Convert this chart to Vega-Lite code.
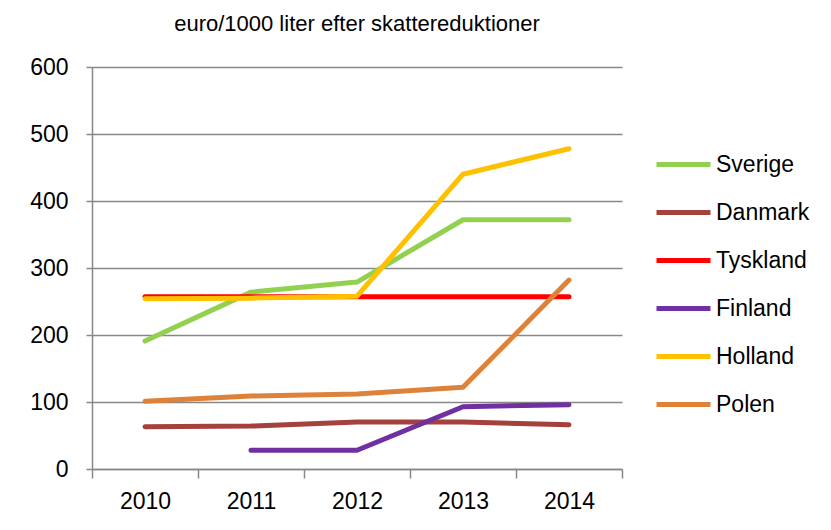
{
  "$schema": "https://vega.github.io/schema/vega-lite/v6.json",
  "width": 530,
  "height": 402,
  "autosize": {"type": "none"},
  "padding": {"left": 92, "top": 67, "right": 209, "bottom": 61},
  "background": "white",
  "title": {
    "text": "euro/1000 liter efter skattereduktioner",
    "font": "Liberation Sans",
    "fontSize": 22,
    "fontWeight": "normal",
    "color": "#000000",
    "anchor": "middle",
    "offset": 20
  },
  "config": {
    "view": {"stroke": null},
    "font": "Liberation Sans"
  },
  "data": {
    "values": [
      {"year": "2010", "country": "Sverige", "value": 191},
      {"year": "2011", "country": "Sverige", "value": 264},
      {"year": "2012", "country": "Sverige", "value": 279},
      {"year": "2013", "country": "Sverige", "value": 372},
      {"year": "2014", "country": "Sverige", "value": 372},
      {"year": "2010", "country": "Danmark", "value": 63},
      {"year": "2011", "country": "Danmark", "value": 64},
      {"year": "2012", "country": "Danmark", "value": 70},
      {"year": "2013", "country": "Danmark", "value": 70},
      {"year": "2014", "country": "Danmark", "value": 66},
      {"year": "2010", "country": "Tyskland", "value": 257},
      {"year": "2011", "country": "Tyskland", "value": 257},
      {"year": "2012", "country": "Tyskland", "value": 257},
      {"year": "2013", "country": "Tyskland", "value": 257},
      {"year": "2014", "country": "Tyskland", "value": 257},
      {"year": "2011", "country": "Finland", "value": 28},
      {"year": "2012", "country": "Finland", "value": 28},
      {"year": "2013", "country": "Finland", "value": 93},
      {"year": "2014", "country": "Finland", "value": 96},
      {"year": "2010", "country": "Holland", "value": 254},
      {"year": "2011", "country": "Holland", "value": 255},
      {"year": "2012", "country": "Holland", "value": 258},
      {"year": "2013", "country": "Holland", "value": 440},
      {"year": "2014", "country": "Holland", "value": 478},
      {"year": "2010", "country": "Polen", "value": 101},
      {"year": "2011", "country": "Polen", "value": 109},
      {"year": "2012", "country": "Polen", "value": 112},
      {"year": "2013", "country": "Polen", "value": 122},
      {"year": "2014", "country": "Polen", "value": 282}
    ]
  },
  "mark": {"type": "line", "strokeWidth": 5, "strokeCap": "round", "strokeJoin": "round"},
  "encoding": {
    "x": {
      "field": "year",
      "type": "ordinal",
      "bandPosition": 0.5,
      "scale": {"type": "band", "paddingInner": 0, "paddingOuter": 0},
      "axis": {
        "title": null,
        "labelAngle": 0,
        "labelFontSize": 23,
        "labelColor": "#000000",
        "labelPadding": 12,
        "tickBand": "extent",
        "tickSize": 9,
        "tickColor": "#888888",
        "tickWidth": 1.5,
        "domainColor": "#888888",
        "domainWidth": 1.5,
        "grid": false
      }
    },
    "y": {
      "field": "value",
      "type": "quantitative",
      "scale": {"domain": [0, 600]},
      "axis": {
        "title": null,
        "values": [0, 100, 200, 300, 400, 500, 600],
        "labelFontSize": 23,
        "labelColor": "#000000",
        "labelPadding": 18,
        "tickSize": 6,
        "tickColor": "#888888",
        "tickWidth": 1.5,
        "domainColor": "#888888",
        "domainWidth": 1.5,
        "grid": true,
        "gridColor": "#888888",
        "gridWidth": 1.5
      }
    },
    "color": {
      "field": "country",
      "type": "nominal",
      "scale": {
        "domain": ["Sverige", "Danmark", "Tyskland", "Finland", "Holland", "Polen"],
        "range": ["#92D050", "#A5403C", "#FF0000", "#7030A0", "#FFC000", "#DE823A"]
      },
      "legend": {
        "title": null,
        "orient": "none",
        "legendX": 562,
        "legendY": 68,
        "symbolType": "stroke",
        "symbolSize": 2916,
        "symbolStrokeWidth": 5,
        "labelFontSize": 23,
        "labelColor": "#000000",
        "labelOffset": 3,
        "rowPadding": 6
      }
    }
  }
}
